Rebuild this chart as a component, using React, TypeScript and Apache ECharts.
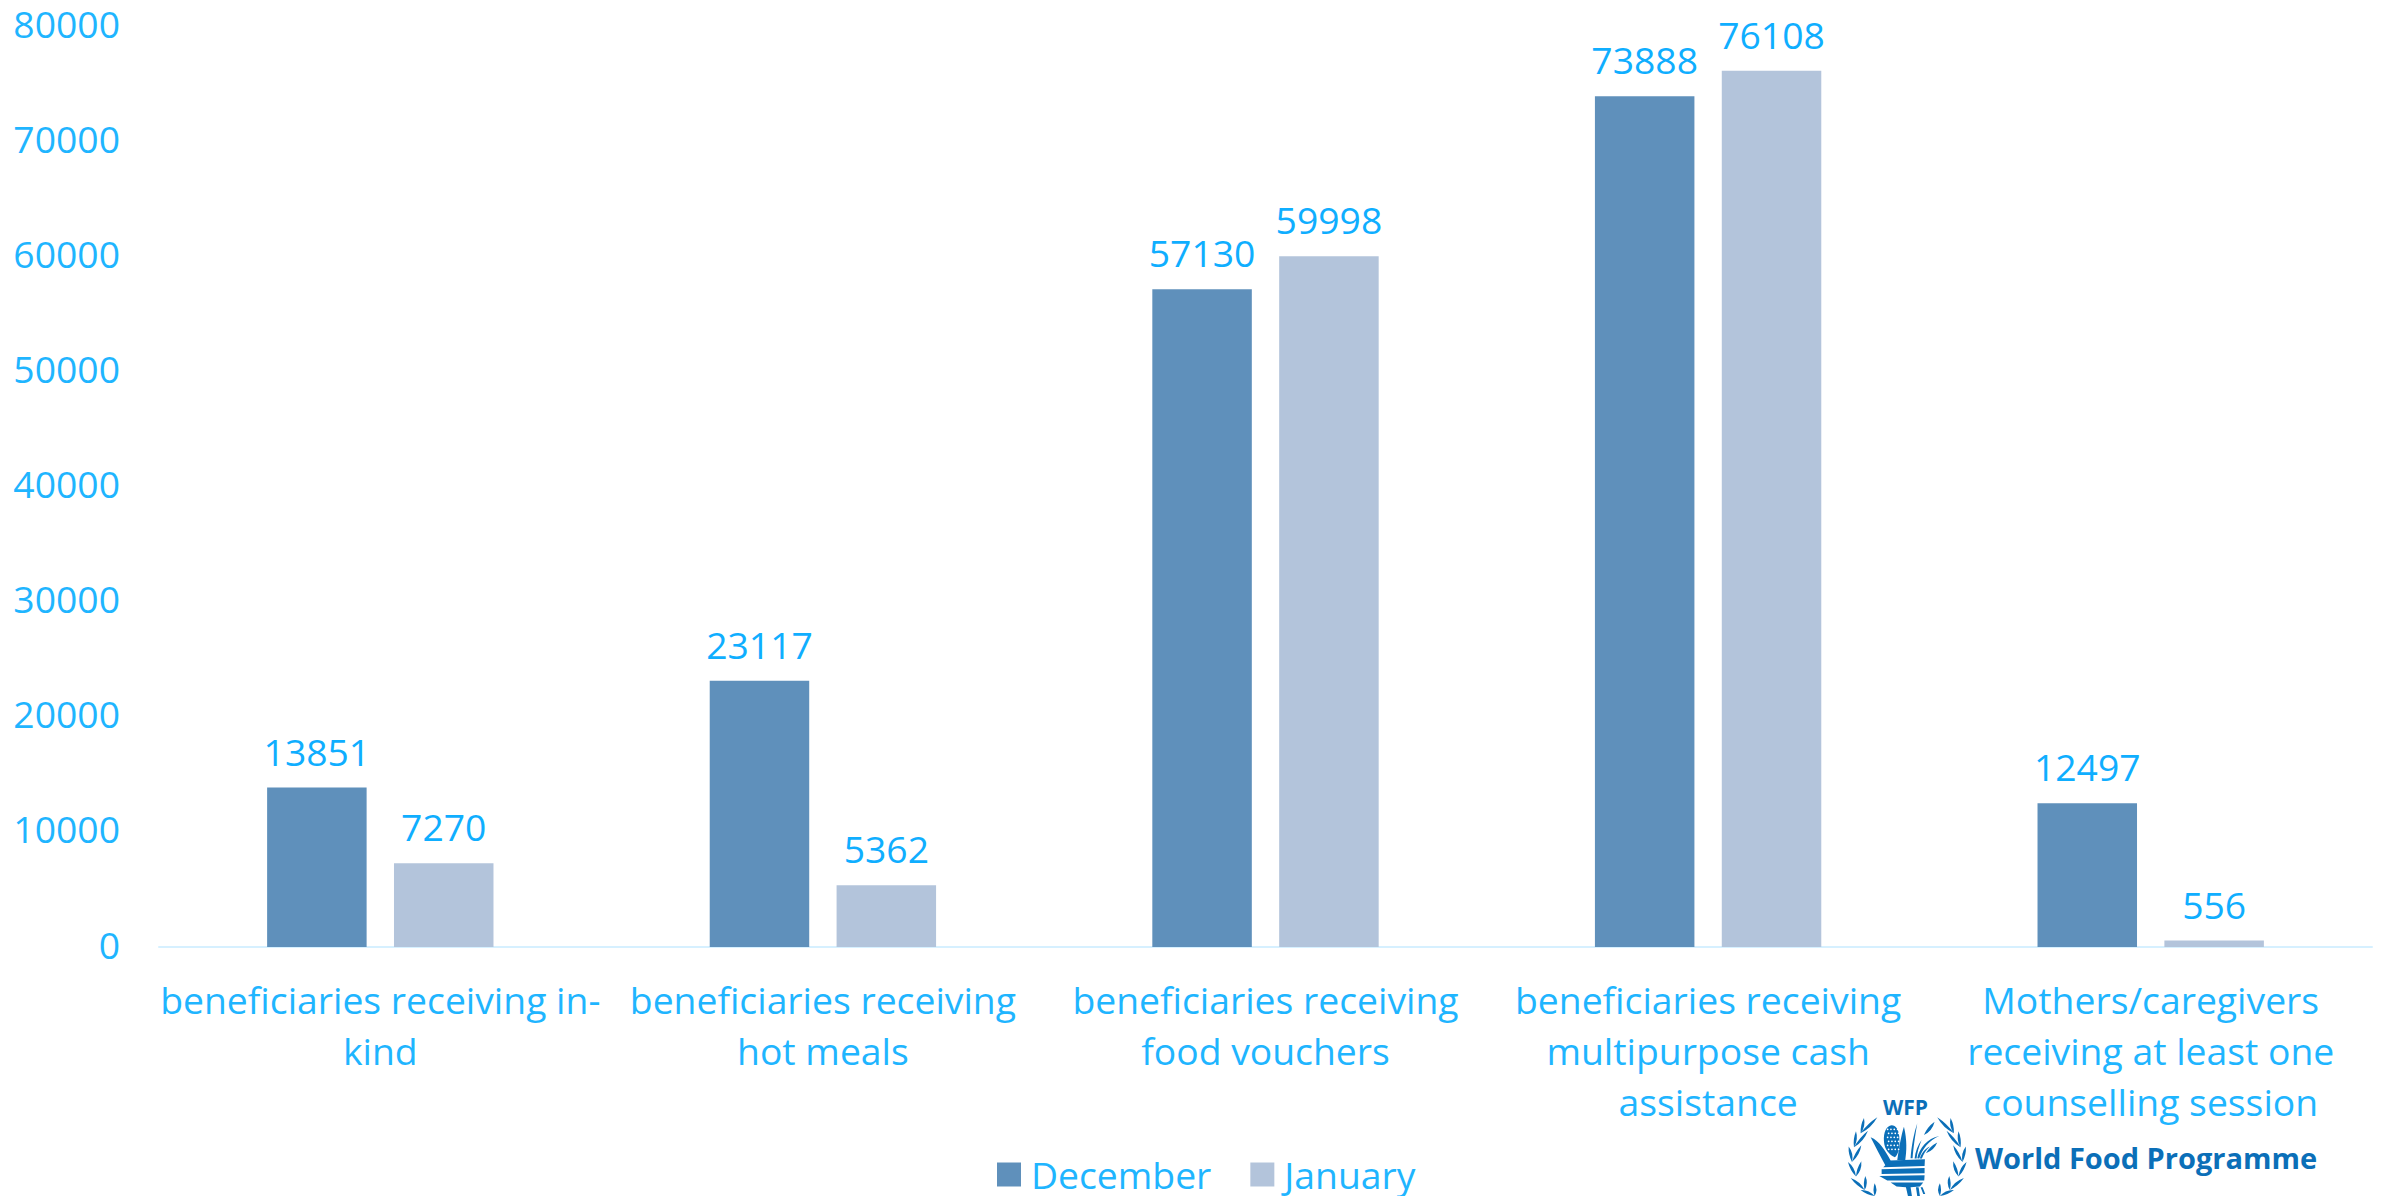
import React, { useEffect, useRef } from "react";
import * as echarts from "echarts";

const categories = [
  "beneficiaries receiving in-\nkind",
  "beneficiaries receiving\nhot meals",
  "beneficiaries receiving\nfood vouchers",
  "beneficiaries receiving\nmultipurpose cash\nassistance",
  "Mothers/caregivers\nreceiving at least one\ncounselling session",
];
const december = [13851, 23117, 57130, 73888, 12497];
const january = [7270, 5362, 59998, 76108, 556];

const FONT = "'Open Sans'";
const TEXT = "#1FB5FF";
const LOGO = "#0B6FB8";
const SIZE = 37.3;

// Emblem artwork, drawn in the coordinates of a 420x318 box
const leaf = (a: number[], b: number[], w: number, mirror: boolean) => {
  const X = (x: number) => (mirror ? 404 - x : x);
  const mx = (a[0] + b[0]) / 2, my = (a[1] + b[1]) / 2;
  const dx = b[0] - a[0], dy = b[1] - a[1];
  const l = Math.hypot(dx, dy);
  const nx = (-dy / l) * w, ny = (dx / l) * w;
  return `M${X(a[0])} ${a[1]}Q${X(mx + nx)} ${my + ny} ${X(b[0])} ${b[1]}Q${X(mx - nx * 0.6)} ${my - ny * 0.6} ${X(a[0])} ${a[1]}Z`;
};
const wreathLeaves: number[][][] = [
  [[62, 130], [72, 84]], [[62, 130], [112, 82]],
  [[42, 172], [48, 124]], [[42, 172], [84, 122]],
  [[36, 216], [26, 170]], [[36, 216], [64, 166]],
  [[48, 260], [24, 216]], [[48, 260], [64, 214]],
  [[74, 300], [32, 264]], [[74, 300], [76, 258]],
  [[104, 318], [62, 300]], [[104, 318], [104, 280]],
];
const wreathPath = [false, true]
  .map((m) => wreathLeaves.map(([a, b]) => leaf(a, b, 11, m)).join(""))
  .join("");
const cornPath =
  "M155 106C140 108 130 125 132 155C134 180 148 195 165 202C176 195 180 170 178 140C176 118 168 106 155 106Z" +
  "M92 142C118 152 136 182 152 212L136 226C122 200 106 170 92 142Z" +
  "M192 110C202 150 200 185 196 210L172 210C178 170 184 135 192 110Z" +
  "M150 212L255 208L254 228L130 232Z" +
  "M125 238L254 234L254 250L125 252Z" +
  "M118 258L254 256L253 272L142 272Z" +
  "M152 278L250 278L240 290L212 292L216 318L204 318L198 292L170 290Z" +
  "M228 292L232 318L240 318L236 292ZM242 292L250 312L256 312L248 292Z" +
  "M212 205C214 170 222 130 232 100C226 135 220 175 218 205Z" +
  "M224 206C226 185 234 165 245 150C237 170 231 190 230 206Z" +
  "M232 205C238 175 262 145 298 138C268 150 246 178 238 206Z" +
  "M240 206C244 190 256 176 270 170C258 180 250 194 246 206Z";
const wheatPath = leaf([252, 135], [284, 95], 12, false) + leaf([258, 190], [292, 158], 11, false);
const dotsPath = [118, 130, 142, 154, 166, 178]
  .map((y, r) =>
    [0, 1, 2, 3].map((c) => {
      const x = 143 + c * 10 + (r % 2) * 3, d = 2.6;
      return `M${x - d} ${y}a${d} ${d} 0 1 0 ${2 * d} 0a${d} ${d} 0 1 0 ${-2 * d} 0Z`;
    }).join("")
  ).join("");

echarts.graphic.registerShape("wfpWreath", echarts.graphic.extendPath(wreathPath, {}) as any);
echarts.graphic.registerShape("wfpCorn", echarts.graphic.extendPath(cornPath, {}) as any);
echarts.graphic.registerShape("wfpWheat", echarts.graphic.extendPath(wheatPath, {}) as any);
echarts.graphic.registerShape("wfpDots", echarts.graphic.extendPath(dotsPath, {}) as any);

export default function App() {
  const ref = useRef<HTMLDivElement>(null);
  useEffect(() => {
    const chart = echarts.init(ref.current!, undefined, { renderer: "svg" });
    const emblem = (type: string, fill: string) => ({
      type, x: 1840, y: 1090, scaleX: 1 / 3, scaleY: 1 / 3, style: { fill }, silent: true,
    });
    chart.setOption({
      animation: false,
      textStyle: { fontFamily: FONT },
      grid: { left: 159, right: 12, top: 26, bottom: 249, containLabel: false },
      legend: {
        data: ["December", "January"],
        icon: "rect",
        left: 997, top: 1156, padding: 0, itemWidth: 24, itemHeight: 24, itemGap: 39,
        textStyle: { color: TEXT, fontSize: SIZE, fontFamily: FONT, padding: [0, 0, 0, 5] },
      },
      xAxis: {
        type: "category", data: categories,
        axisLine: { lineStyle: { color: "#D6F0FF", width: 2 } },
        axisTick: { show: false },
        axisLabel: { color: TEXT, fontSize: SIZE, lineHeight: 51, margin: 27, fontFamily: FONT, interval: 0 },
      },
      yAxis: {
        type: "value", min: 0, max: 80000, interval: 10000,
        axisLine: { show: false }, axisTick: { show: false }, splitLine: { show: false },
        axisLabel: { color: TEXT, fontSize: SIZE, margin: 39, fontFamily: FONT, verticalAlign: "bottom", lineHeight: 6, formatter: (v: number) => String(v) },
      },
      series: [
        { name: "December", type: "bar", data: december, barWidth: 99.5, barGap: "27.5%",
          itemStyle: { color: "#5F90BB" },
          label: { show: true, position: "top", distance: 18, color: "#0FAEFF", fontSize: SIZE, fontFamily: FONT } },
        { name: "January", type: "bar", data: january, barWidth: 99.5,
          itemStyle: { color: "#B3C4DB" },
          label: { show: true, position: "top", distance: 18, color: "#0FAEFF", fontSize: SIZE, fontFamily: FONT } },
      ],
      graphic: [
        emblem("wfpWreath", LOGO),
        emblem("wfpCorn", LOGO),
        emblem("wfpWheat", LOGO),
        emblem("wfpDots", "#FFFFFF"),
        { type: "text", x: 1975, y: 1143, style: { text: "World Food Programme", fill: LOGO, font: "bold 29px 'Open Sans'" } },
        { type: "text", x: 1883, y: 1096, style: { text: "WFP", fill: LOGO, font: "bold 21px 'Open Sans'" } },
      ],
    });
    return () => chart.dispose();
  }, []);
  return <div ref={ref} style={{ width: 2384, height: 1196, position: "absolute", left: 0, top: 0 }} />;
}
